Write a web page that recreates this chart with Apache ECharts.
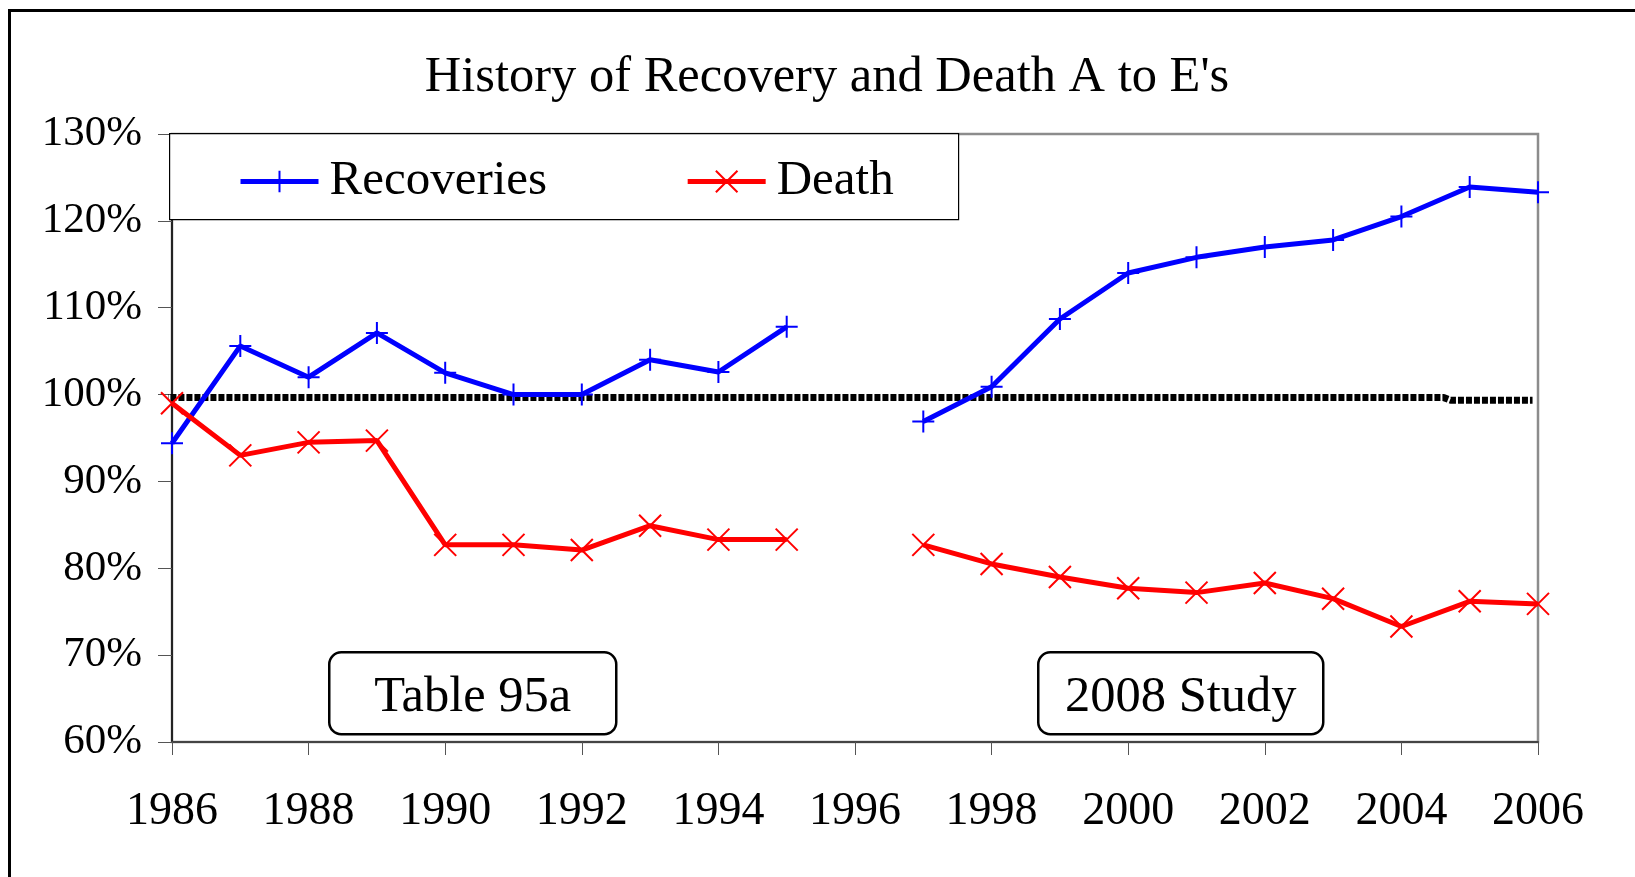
<!DOCTYPE html>
<html>
<head>
<meta charset="utf-8">
<script src="https://cdn.jsdelivr.net/npm/echarts@6/dist/echarts.min.js"></script>
<style>
  html, body { margin: 0; padding: 0; background: #fff; }
  #chart { width: 1635px; height: 877px; }
</style>
</head>
<body>
<div id="chart"></div>
<script>
// values (percent), 1996 has no data
const years = [1986, 1987, 1988, 1989, 1990, 1991, 1992, 1993, 1994, 1995, 1996,
  1997, 1998, 1999, 2000, 2001, 2002, 2003, 2004, 2005, 2006]
const recoveries = [94.4, 105.6, 102.0, 107.1, 102.5, 100.0, 100.0, 104.0, 102.6, 107.8, null,
  96.9, 100.9, 108.7, 114.0, 115.8, 117.0, 117.8, 120.5, 123.9, 123.3]
const deaths = [99.0, 93.0, 94.5, 94.7, 82.7, 82.7, 82.1, 84.9, 83.3, 83.3, null,
  82.7, 80.5, 79.0, 77.7, 77.2, 78.3, 76.5, 73.3, 76.2, 75.9]

// the dotted 100% reference line
const baselineYears = [1985.86, 2004.62, 2004.72, 2005.92]
const baselineValues = [99.65, 99.65, 99.35, 99.35]

const seriesNames = ['Recoveries', 'Death']
const boxLabels = ['Table 95a', '2008 Study']

const serif = '"Liberation Serif", "Times New Roman", serif'
const plusPath = 'path://M10,0L10,20M0,10L20,10'
const crossPath = 'path://M0,0L20,20M20,0L0,20'

const pairs = (xs, ys) => xs.map((x, i) => [x, ys[i]])

const chart = echarts.init(document.getElementById('chart'))

const annotation = (x, y, w, h, label) => ({
  type: 'group',
  left: x,
  top: y,
  z: 10,
  children: [
    {
      type: 'rect',
      shape: { x: 0, y: 0, width: w, height: h, r: 12 },
      style: { fill: '#fff', stroke: '#000', lineWidth: 2.5 },
    },
    {
      type: 'text',
      x: w / 2,
      y: h / 2 + 4,
      style: {
        text: label,
        font: '50.5px ' + serif,
        fill: '#000',
        textAlign: 'center',
        textVerticalAlign: 'middle',
      },
    },
  ],
})

const option = {
  animation: false,
  backgroundColor: '#fff',
  title: {
    text: "History of Recovery and Death A to E's",
    left: 822,
    textAlign: 'center',
    top: 47,
    textStyle: {
      fontFamily: serif,
      fontSize: 50.5,
      fontWeight: 'normal',
      color: '#000',
    },
  },
  legend: {
    data: seriesNames,
    left: 238,
    top: 157,
    padding: 0,
    itemWidth: 78,
    itemHeight: 27,
    itemGap: 138,
    selectedMode: false,
    lineStyle: { width: 5 },
    textStyle: {
      fontFamily: serif,
      fontSize: 49,
      color: '#000',
      padding: [0, 0, 0, 6],
    },
  },
  grid: {
    left: 172,
    right: 97,
    top: 134,
    bottom: 135,
    show: true,
    borderColor: '#8c8c8c',
    borderWidth: 2.5,
    backgroundColor: 'transparent',
  },
  xAxis: {
    type: 'value',
    min: 1986,
    max: 2006,
    interval: 2,
    splitLine: { show: false },
    axisLine: { show: true, onZero: false, lineStyle: { color: '#444', width: 2 } },
    axisTick: { show: true, length: 13, lineStyle: { color: '#555', width: 1 } },
    axisLabel: {
      margin: 47,
      fontFamily: serif,
      fontSize: 46,
      color: '#000',
      formatter: (v) => String(v),
    },
  },
  yAxis: {
    type: 'value',
    min: 60,
    max: 130,
    interval: 10,
    splitLine: { show: false },
    axisLine: { show: true, lineStyle: { color: '#000', width: 1.5 } },
    axisTick: { show: true, length: 14, lineStyle: { color: '#555', width: 1 } },
    axisLabel: {
      margin: 30,
      fontFamily: serif,
      fontSize: 43,
      color: '#000',
      formatter: '{value}%',
    },
  },
  series: [
    {
      name: 'baseline',
      type: 'line',
      data: pairs(baselineYears, baselineValues),
      symbol: 'none',
      clip: false,
      silent: true,
      z: 1,
      lineStyle: { color: '#000', width: 7, type: [6, 2], cap: 'butt' },
    },
    {
      name: seriesNames[0],
      type: 'line',
      data: pairs(years, recoveries),
      connectNulls: false,
      clip: false,
      symbol: plusPath,
      symbolSize: 22,
      lineStyle: { color: '#0000ff', width: 5 },
      itemStyle: { color: '#0000ff', borderColor: '#0000ff', borderWidth: 2 },
    },
    {
      name: seriesNames[1],
      type: 'line',
      data: pairs(years, deaths),
      connectNulls: false,
      clip: false,
      symbol: crossPath,
      symbolSize: 22,
      lineStyle: { color: '#ff0000', width: 5 },
      itemStyle: { color: '#ff0000', borderColor: '#ff0000', borderWidth: 2 },
    },
  ],
  graphic: [
    {
      type: 'rect',
      left: 8,
      top: 9,
      z: -1,
      shape: { x: 0, y: 0, width: 1700, height: 900 },
      style: { fill: 'transparent', stroke: '#000', lineWidth: 3 },
    },
    {
      type: 'rect',
      left: 169,
      top: 133,
      z: 3,
      shape: { x: 0, y: 0, width: 789, height: 86 },
      style: { fill: '#fff', stroke: '#000', lineWidth: 1.2 },
    },
    annotation(328, 651, 287, 82, boxLabels[0]),
    annotation(1037, 651, 285, 82, boxLabels[1]),
  ],
}

chart.setOption(option)
</script>
</body>
</html>
